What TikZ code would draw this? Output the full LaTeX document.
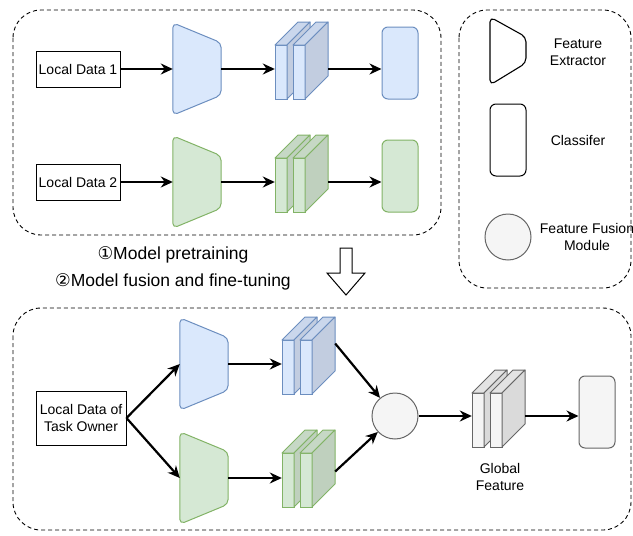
\documentclass[tikz,border=0pt]{standalone}
\usepackage{fontspec}
\setmainfont{Liberation Sans}
\newfontfamily\circfont{DejaVu Sans}
\usetikzlibrary{arrows.meta,positioning,calc}

\definecolor{blueFill}{HTML}{DAE8FC}
\definecolor{blueTop}{HTML}{CAD7EC}
\definecolor{blueSide}{HTML}{C2CDE0}
\definecolor{blueLine}{HTML}{6C8EBF}
\definecolor{greenFill}{HTML}{D5E8D4}
\definecolor{greenTop}{HTML}{C6D8C5}
\definecolor{greenSide}{HTML}{BFD0BE}
\definecolor{greenLine}{HTML}{82B366}
\definecolor{grayFill}{HTML}{F5F5F5}
\definecolor{grayTop}{HTML}{E3E3E3}
\definecolor{graySide}{HTML}{DADADA}
\definecolor{grayLine}{HTML}{666666}

% feature extractor: name, centre, fill, line
\newcommand{\FeatExtractor}[4]{%
  \node[inner sep=0pt, minimum width=48pt, minimum height=92pt] (#1) at (#2) {};
  \draw[draw=#4, fill=#3, line width=1pt, rounded corners=5pt]
    (#1.north west) -- ([yshift=-20pt]#1.north east) -- ([yshift=20pt]#1.south east)
    -- (#1.south west) -- cycle;
}

% two feature maps: name, front corner, fill, top, side, line
\newcommand{\FeatMaps}[6]{%
  \begin{scope}[shift={(#2)}]
    \foreach \dx in {0,18} {
      \draw[draw=#6, fill=#3, line width=1pt] (\dx,0) rectangle ++(12,54);
      \draw[draw=#6, fill=#4, line width=1pt, line join=round] (\dx,0) -- ++(23,-23) -- ++(12,0) -- ++(-23,23) -- cycle;
      \draw[draw=#6, fill=#5, line width=1pt, line join=round] (\dx+12,0) -- ++(23,-23) -- ++(0,54) -- ++(-23,23) -- cycle;
    }
    \node[inner sep=0pt, minimum width=53pt, minimum height=77pt] (#1) at (26.5,15.5) {};
  \end{scope}
}

\begin{document}
\begin{tikzpicture}[
    x=1pt, y=-1pt,
    font=\fontsize{14}{16.5}\selectfont,
    arr/.style={-{Stealth[length=12pt,width=11pt]}, line width=2.2pt},
    datbox/.style={rectangle, draw, line width=1pt, minimum width=84pt, minimum height=36pt, inner sep=1pt},
    classif/.style={rectangle, rounded corners=6pt, draw, line width=1pt, minimum width=36pt, minimum height=72pt},
    fusion/.style={circle, draw=grayLine, fill=grayFill, line width=1pt, minimum size=46pt},
    stage/.style={draw, line width=0.9pt, dash pattern=on 4pt off 3pt, rounded corners=28pt},
    caption/.style={font=\fontsize{17.5}{20}\selectfont},
    note/.style={align=center}
]
\useasboundingbox (0,0) rectangle (633,536);

% Frames
\draw[stage] (13,10) rectangle (441,235);
\draw[stage] (459,10) rectangle (631,288);
\draw[stage] (13,308) rectangle (631,530);

% Pretraining, client 1
\node[datbox] (ld1) at (78,69) {Local Data 1};
\FeatExtractor{fe1}{197,69}{blueFill}{blueLine}
\FeatMaps{fm1}{275,45}{blueFill}{blueTop}{blueSide}{blueLine}
\node[classif, draw=blueLine, fill=blueFill] (cl1) at (400,63) {};

% Pretraining, client 2
\node[datbox] (ld2) at (78,182) {Local Data 2};
\FeatExtractor{fe2}{197,182}{greenFill}{greenLine}
\FeatMaps{fm2}{275,158}{greenFill}{greenTop}{greenSide}{greenLine}
\node[classif, draw=greenLine, fill=greenFill] (cl2) at (400,176) {};

\draw[arr] (ld1) -- (fe1);
\draw[arr] (fe1) -- (fe1 -| fm1.west);
\draw[arr] (fe1 -| fm1.east) -- (fe1 -| cl1.west);
\draw[arr] (ld2) -- (fe2);
\draw[arr] (fe2) -- (fe2 -| fm2.west);
\draw[arr] (fe2 -| fm2.east) -- (fe2 -| cl2.west);

% Stages
\node[caption] (cap1) at (173,255) {{\circfont ①}Model pretraining};
\node[caption] (cap2) at (173,282) {{\circfont ②}Model fusion and fine-tuning};
\draw[line width=1pt, fill=white, line join=miter]
  (340,248) -- (352,248) -- (352,273) -- (365,273) -- (346,295) -- (327,273) -- (340,273) -- cycle;

% Legend
\draw[line width=1.1pt, fill=white, rounded corners=5pt]
  (490,17) -- (526,37) -- (526,63) -- (490,85) -- cycle;
\node[note] (lgfe) at (578,52) {Feature\\Extractor};
\node[classif, fill=white] (lgcl) at (508,140) {};
\node[note] (lgcltx) at (578,140) {Classifer};
\node[fusion] (lgfu) at (508,237) {};
\node[note] (lgfutx) at (587,237) {Feature Fusion\\Module};

% Fusion and fine-tuning
\node[datbox, minimum width=90pt, minimum height=54pt, align=center] (ldt) at (81,418) {Local Data of\\Task Owner};
\FeatExtractor{fe3}{204,364}{blueFill}{blueLine}
\FeatExtractor{fe4}{204,478}{greenFill}{greenLine}
\FeatMaps{fm3}{282,340}{blueFill}{blueTop}{blueSide}{blueLine}
\FeatMaps{fm4}{282,453}{greenFill}{greenTop}{greenSide}{greenLine}
\node[fusion] (fuse) at (395,416) {};
\FeatMaps{fm5}{472,393}{grayFill}{grayTop}{graySide}{grayLine}
\node[classif, draw=grayLine, fill=grayFill] (cl3) at (597,412) {};
\node[note] (gf) at (500,477) {Global\\Feature};

\draw[arr] (ldt.east) -- (fe3.west);
\draw[arr] (ldt.east) -- (fe4.west);
\draw[arr] (fe3) -- (fe3 -| fm3.west);
\draw[arr] (fe4) -- (fe4 -| fm4.west);
\draw[arr] ([yshift=12pt]fm3.east) -- (fuse);
\draw[arr] ([yshift=-3pt]fm4.east) -- (fuse);
\draw[arr] (fuse) -- (fuse -| fm5.west);
\draw[arr] (fuse -| fm5.east) -- (fuse -| cl3.west);

\end{tikzpicture}
\end{document}
